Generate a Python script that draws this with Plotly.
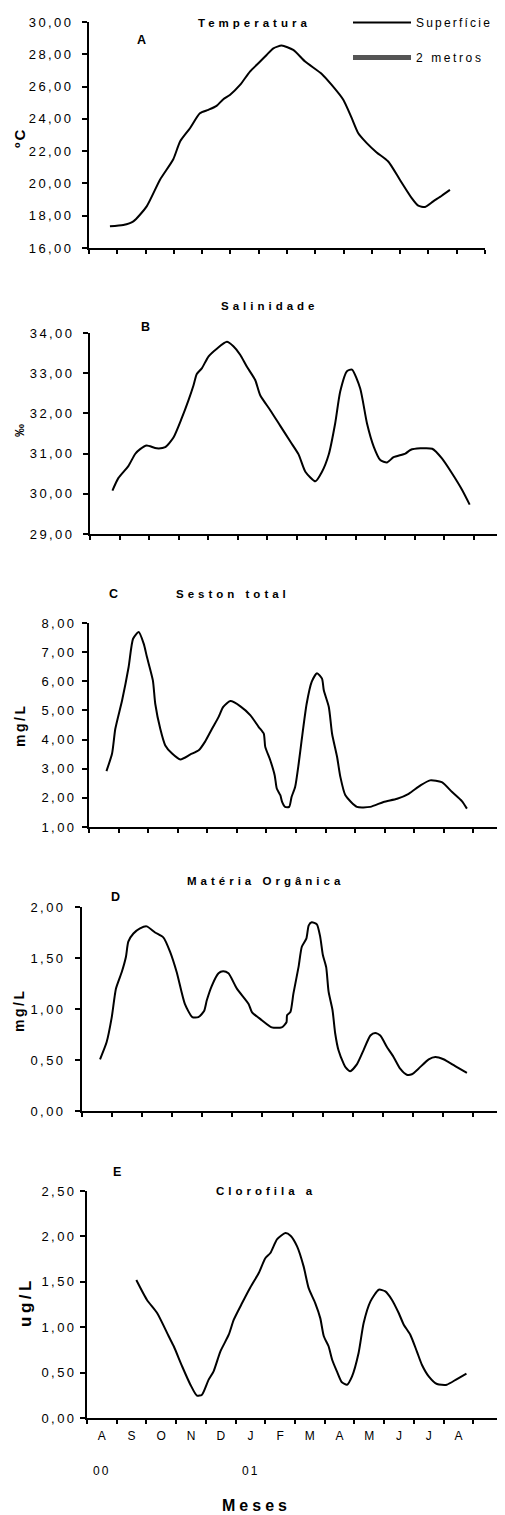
import plotly.graph_objects as go

FONT = "Liberation Sans, Arial, sans-serif"

# ---------------- data ----------------
months = ["A", "S", "O", "N", "D", "J", "F", "M", "A", "M", "J", "J", "A"]
years = ["00", "01"]
year_pos = [0.5, 5.5]
n_cat = 14

temp_x = [0.74, 1.21, 1.57, 2.04, 2.51, 2.98, 3.22, 3.57, 3.92, 4.22, 4.51, 4.75, 4.98,
          5.34, 5.69, 6.05, 6.28, 6.52, 6.81, 7.22, 7.64, 8.23, 8.58, 8.99, 9.29, 9.52,
          9.82, 10.17, 10.58, 10.99, 11.41, 11.64, 11.88, 12.17, 12.47, 12.76]
temp_y = [17.34, 17.42, 17.65, 18.58, 20.23, 21.5, 22.6, 23.42, 24.35, 24.56, 24.8, 25.22,
          25.48, 26.1, 26.93, 27.55, 27.96, 28.37, 28.54, 28.27, 27.55, 26.78, 26.1, 25.18,
          24.04, 23.11, 22.5, 21.92, 21.36, 20.23, 19.09, 18.62, 18.54, 18.89, 19.24, 19.6]

sal_x = [0.76, 0.96, 1.30, 1.53, 1.70, 1.92, 2.26, 2.55, 2.83, 3.11, 3.34, 3.51, 3.62, 3.79,
         4.02, 4.30, 4.64, 4.86, 5.09, 5.32, 5.60, 5.77, 6.11, 6.45, 6.79, 7.07, 7.30, 7.64,
         7.86, 8.09, 8.31, 8.48, 8.71, 8.88, 9.16, 9.39, 9.62, 9.84, 10.07, 10.29, 10.69,
         10.86, 11.20, 11.60, 11.93, 12.27, 12.61, 12.87]
sal_y = [30.08, 30.39, 30.69, 30.99, 31.11, 31.2, 31.13, 31.16, 31.4, 31.88, 32.33, 32.70,
         32.98, 33.12, 33.42, 33.61, 33.78, 33.67, 33.46, 33.16, 32.83, 32.45, 32.08, 31.69,
         31.30, 30.98, 30.55, 30.31, 30.54, 30.97, 31.75, 32.54, 33.05, 33.09, 32.62, 31.75,
         31.17, 30.84, 30.78, 30.91, 31.0, 31.09, 31.13, 31.12, 30.88, 30.51, 30.1, 29.73]

seston_x = [0.59, 0.78, 0.89, 1.12, 1.34, 1.49, 1.68, 1.85, 1.96, 2.16, 2.24, 2.41, 2.58,
            2.81, 3.09, 3.43, 3.71, 3.92, 4.16, 4.38, 4.54, 4.78, 5.12, 5.46, 5.74, 5.91,
            5.96, 6.13, 6.28, 6.35, 6.47, 6.53, 6.63, 6.77, 6.85, 6.97, 7.09, 7.19, 7.36,
            7.53, 7.71, 7.88, 7.94, 8.11, 8.22, 8.39, 8.50, 8.67, 9.06, 9.51, 9.96, 10.42,
            10.81, 11.21, 11.53, 11.93, 12.28, 12.61, 12.78]
seston_y = [2.92, 3.52, 4.37, 5.35, 6.49, 7.46, 7.69, 7.29, 6.83, 6.03, 5.23, 4.37, 3.80,
            3.52, 3.32, 3.49, 3.63, 3.92, 4.37, 4.77, 5.12, 5.32, 5.14, 4.83, 4.43, 4.20,
            3.75, 3.29, 2.77, 2.32, 2.09, 1.86, 1.69, 1.69, 2.03, 2.37, 3.17, 3.97, 5.23,
            5.98, 6.28, 6.09, 5.69, 5.12, 4.20, 3.40, 2.72, 2.09, 1.69, 1.69, 1.86, 1.97,
            2.14, 2.43, 2.60, 2.54, 2.20, 1.89, 1.63]

om_x = [0.60, 0.82, 0.99, 1.13, 1.32, 1.46, 1.54, 1.71, 1.93, 2.15, 2.43, 2.71, 2.93, 3.15,
        3.42, 3.67, 3.87, 4.06, 4.15, 4.32, 4.54, 4.69, 4.87, 5.15, 5.54, 5.65, 5.98, 6.31,
        6.64, 6.80, 6.82, 6.93, 7.03, 7.20, 7.31, 7.46, 7.54, 7.64, 7.81, 7.92, 8.01, 8.12,
        8.20, 8.33, 8.42, 8.53, 8.70, 8.76, 8.92, 9.14, 9.36, 9.59, 9.75, 9.92, 10.14,
        10.36, 10.58, 10.80, 10.97, 11.19, 11.53, 11.75, 12.02, 12.41, 12.80]
om_y = [0.507, 0.676, 0.92, 1.20, 1.36, 1.51, 1.66, 1.74, 1.79, 1.81, 1.75, 1.70, 1.56, 1.36,
        1.05, 0.92, 0.92, 0.98, 1.085, 1.23, 1.35, 1.37, 1.35, 1.20, 1.05, 0.97, 0.89, 0.82,
        0.82, 0.87, 0.94, 0.97, 1.15, 1.41, 1.61, 1.69, 1.82, 1.85, 1.83, 1.71, 1.53, 1.41,
        1.17, 0.99, 0.76, 0.595, 0.464, 0.43, 0.39, 0.457, 0.595, 0.74, 0.765, 0.74, 0.627,
        0.53, 0.415, 0.356, 0.36, 0.415, 0.507, 0.53, 0.507, 0.44, 0.373]

chl_x = [1.66, 2.02, 2.36, 2.75, 2.92, 3.20, 3.48, 3.70, 3.87, 4.09, 4.26, 4.49, 4.77, 4.94,
         5.22, 5.50, 5.78, 6.00, 6.17, 6.40, 6.68, 6.85, 7.07, 7.29, 7.46, 7.68, 7.85, 7.97,
         8.13, 8.25, 8.41, 8.58, 8.75, 8.92, 9.14, 9.31, 9.54, 9.82, 10.04, 10.26, 10.49,
         10.66, 10.88, 11.10, 11.27, 11.50, 11.78, 12.11, 12.45, 12.77]
chl_y = [1.52, 1.30, 1.156, 0.90, 0.79, 0.57, 0.367, 0.246, 0.257, 0.42, 0.514, 0.734, 0.917,
         1.083, 1.266, 1.44, 1.596, 1.76, 1.817, 1.97, 2.037, 2.007, 1.89, 1.67, 1.43, 1.266,
         1.10, 0.90, 0.79, 0.642, 0.514, 0.393, 0.367, 0.459, 0.716, 1.046, 1.284, 1.413,
         1.394, 1.303, 1.156, 1.028, 0.917, 0.734, 0.587, 0.459, 0.374, 0.367, 0.429, 0.488]

titles = ["Temperatura", "Salinidade", "Seston total", "Matéria Orgânica", "Clorofila a"]
letters = ["A", "B", "C", "D", "E"]
units = ["ºC", "‰", "mg/L", "mg/L", "ug/L"]
y_ranges = [(16, 30, 2), (29, 34, 1), (1, 8, 1), (0, 2, 0.5), (0, 2.5, 0.5)]
series = [(temp_x, temp_y), (sal_x, sal_y), (seston_x, seston_y), (om_x, om_y), (chl_x, chl_y)]
legend_names = ["Superfície", "2 metros"]

# ---------------- layout helpers (page pixels) ----------------
PAGE_W, PAGE_H = 505, 1515
BODY = 8                      # default page margin around the plot div
W, H = PAGE_W - BODY, PAGE_H - BODY
# plot area boxes: (left, right, top, bottom) in page px
boxes = [(89, 485, 22, 248), (90, 503, 333, 534), (89, 503, 623, 827),
         (82, 503, 907, 1111), (87, 503, 1191, 1418)]
title_pos = [(254, 23), (270, 306), (233, 594), (265, 881), (266, 1191)]
letter_pos = [(141, 40), (145, 327), (113, 594), (115, 897), (117, 1172)]
unit_pos = [(19, 138), (19, 431), (20, 726), (19, 1011), (25, 1302)]
unit_size = [15, 13, 14, 14, 17]
unit_space = [2, 0, 2.5, 2.5, 3.5]
label_standoff = [6, 6, 3, 7, 1]


def px(x):
    return (x - BODY) / W


def py(y):
    return 1 - (y - BODY) / H


def spaced(s, sp):
    return f'<span style="letter-spacing:{sp}px">{s}</span>'


def fmt(v):
    return f"{v:.2f}".replace(".", ",")


fig = go.Figure()
layout = dict(
    template="none",
    width=W, height=H, margin=dict(l=0, r=0, t=0, b=0, pad=0, autoexpand=False),
    paper_bgcolor="white", plot_bgcolor="white",
    font=dict(family=FONT, color="black", size=12),
    showlegend=True,
)
annotations = []

for i in range(5):
    n = i + 1
    xa = "x" if n == 1 else f"x{n}"
    ya = "y" if n == 1 else f"y{n}"
    l, r, t, b = boxes[i]
    lo, hi, step = y_ranges[i]
    nt = int(round((hi - lo) / step))
    yt = [lo + k * step for k in range(nt + 1)]
    sx, sy = series[i]
    fig.add_trace(go.Scatter(
        x=sx, y=sy, xaxis=xa, yaxis=ya, mode="lines",
        line=dict(color="black", width=2, shape="spline", smoothing=0.6),
        name=spaced(legend_names[0], 2.2), legendgroup="s",
        showlegend=(i == 0), hoverinfo="skip"))
    xkey = "xaxis" if n == 1 else f"xaxis{n}"
    ykey = "yaxis" if n == 1 else f"yaxis{n}"
    xdef = dict(domain=[px(l), px(r)], range=[0, n_cat], anchor=ya, automargin=False,
                showline=True, linewidth=2, linecolor="black", showgrid=False,
                zeroline=False, fixedrange=True)
    if i < 4:
        xdef.update(tickmode="array", tickvals=list(range(n_cat + 1)),
                    ticks="outside", ticklen=4, tickwidth=1.5, tickcolor="black",
                    showticklabels=False)
    else:
        xdef.update(tickmode="array", tickvals=[k + 0.5 for k in range(len(months))],
                    ticktext=months, ticks="", showticklabels=True,
                    tickfont=dict(family=FONT, size=12, color="black"),
                    ticklabelstandoff=6,
                    minor=dict(tickmode="linear", tick0=0, dtick=1, ticks="outside",
                               ticklen=4, tickwidth=1.5, tickcolor="black", showgrid=False))
    layout[xkey] = xdef
    layout[ykey] = dict(domain=[py(b), py(t)], range=[lo, hi], anchor=xa, automargin=False,
                        showline=True, linewidth=2, linecolor="black", showgrid=False,
                        zeroline=False, fixedrange=True,
                        tickmode="array", tickvals=yt,
                        ticktext=[spaced(fmt(v), 2.4) for v in yt],
                        ticks="outside", ticklen=5, tickwidth=1.5, tickcolor="black",
                        ticklabelstandoff=label_standoff[i],
                        tickfont=dict(family=FONT, size=13, color="black"))
    tx, ty = title_pos[i]
    annotations.append(dict(text=spaced(f"<b>{titles[i]}</b>", 4), x=px(tx), y=py(ty),
                            xref="paper", yref="paper", showarrow=False,
                            xanchor="center", yanchor="middle",
                            font=dict(family=FONT, size=11.5, color="black")))
    lx, ly = letter_pos[i]
    annotations.append(dict(text=f"<b>{letters[i]}</b>", x=px(lx), y=py(ly),
                            xref="paper", yref="paper", showarrow=False,
                            xanchor="center", yanchor="middle",
                            font=dict(family=FONT, size=12.5, color="black")))
    ux, uy = unit_pos[i]
    annotations.append(dict(text=spaced(f"<b>{units[i]}</b>", unit_space[i]), x=px(ux), y=py(uy),
                            xref="paper", yref="paper", showarrow=False, textangle=-90,
                            xanchor="center", yanchor="middle",
                            font=dict(family=FONT, size=unit_size[i], color="black")))

# legend-only entry for the 2 m series (not visible in the reference plot)
fig.add_trace(go.Scatter(x=[None], y=[None], mode="lines",
                         line=dict(color="#555555", width=5),
                         name=spaced(legend_names[1], 2.6), legendgroup="m",
                         showlegend=True, hoverinfo="skip"))

for yr, xp in zip(years, year_pos):
    annotations.append(dict(text=spaced(yr, 2), x=xp, y=py(1471), xref="x5", yref="paper",
                            showarrow=False, xanchor="center", yanchor="middle",
                            font=dict(family=FONT, size=12, color="black")))
annotations.append(dict(text=spaced("<b>Meses</b>", 4), x=px(257), y=py(1505),
                        xref="paper", yref="paper", showarrow=False,
                        xanchor="center", yanchor="middle",
                        font=dict(family=FONT, size=16, color="black")))

layout["annotations"] = annotations
layout["legend"] = dict(x=px(348), y=py(8), xanchor="left", yanchor="top",
                        bgcolor="rgba(0,0,0,0)", itemwidth=58, tracegroupgap=16,
                        traceorder="grouped",
                        font=dict(family=FONT, size=12, color="black"))
fig.update_layout(**layout)
fig.write_html("out.html")
